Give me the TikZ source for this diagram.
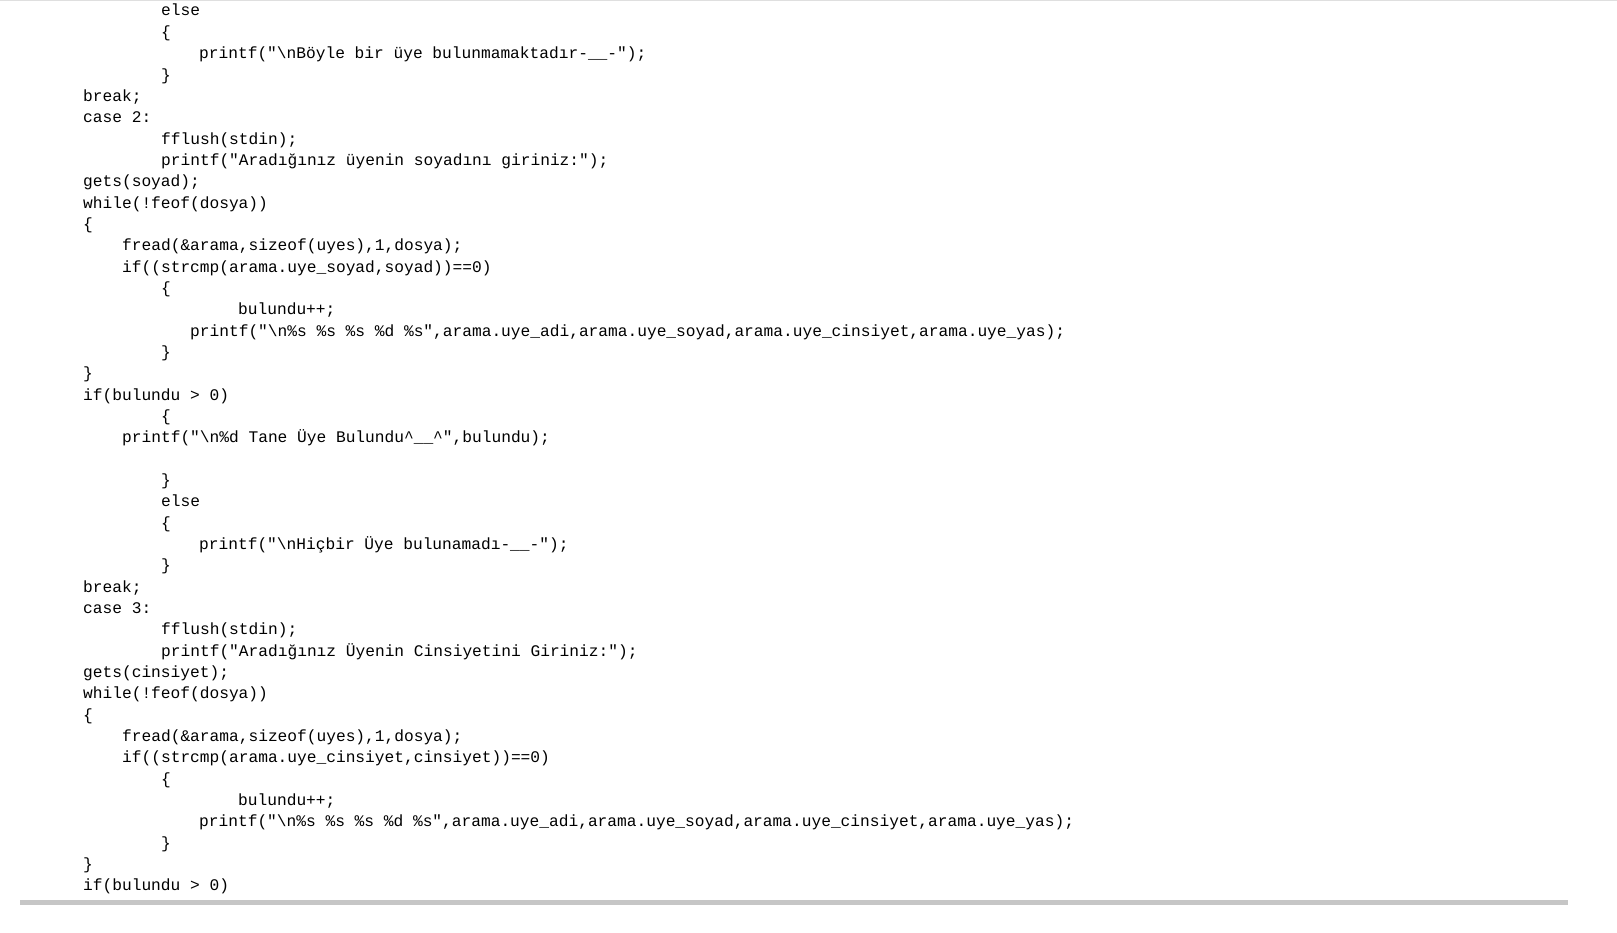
\documentclass[tikz,border=0pt]{standalone}
\usepackage{fontspec}
\setmonofont{Liberation Mono}
\begin{document}
\begin{tikzpicture}[x=1pt,y=-1pt,
  code/.style={anchor=base west,inner sep=0pt,font=\ttfamily\fontsize{16.2}{18}\selectfont,text=black}]
\useasboundingbox[fill=white] (0,0) rectangle (1617,933);
\fill[gray!45] (20,900) rectangle (1568,905);
\draw[gray!25] (0,0.5) -- (1617,0.5);
\def\L#1#2#3{\node[code] (l#1) at (#2,{11+(#1-1)*21.34+5}) {#3};}
\L{1}{161}{else}
\L{2}{161}{\{}
\L{3}{199}{printf("\textbackslash nBöyle bir üye bulunmamaktadır-\_\_-");}
\L{4}{161}{\}}
\L{5}{83}{break;}
\L{6}{83}{case 2:}
\L{7}{161}{fflush(stdin);}
\L{8}{161}{printf("Aradığınız üyenin soyadını giriniz:");}
\L{9}{83}{gets(soyad);}
\L{10}{83}{while(!feof(dosya))}
\L{11}{83}{\{}
\L{12}{122}{fread(\&arama,sizeof(uyes),1,dosya);}
\L{13}{122}{if((strcmp(arama.uye\_soyad,soyad))==0)}
\L{14}{161}{\{}
\L{15}{238}{bulundu++;}
\L{16}{190}{printf("\textbackslash n\%s \%s \%s \%d \%s",arama.uye\_adi,arama.uye\_soyad,arama.uye\_cinsiyet,arama.uye\_yas);}
\L{17}{161}{\}}
\L{18}{83}{\}}
\L{19}{83}{if(bulundu > 0)}
\L{20}{161}{\{}
\L{21}{122}{printf("\textbackslash n\%d Tane Üye Bulundu\textasciicircum\_\_\textasciicircum",bulundu);}
\L{23}{161}{\}}
\L{24}{161}{else}
\L{25}{161}{\{}
\L{26}{199}{printf("\textbackslash nHiçbir Üye bulunamadı-\_\_-");}
\L{27}{161}{\}}
\L{28}{83}{break;}
\L{29}{83}{case 3:}
\L{30}{161}{fflush(stdin);}
\L{31}{161}{printf("Aradığınız Üyenin Cinsiyetini Giriniz:");}
\L{32}{83}{gets(cinsiyet);}
\L{33}{83}{while(!feof(dosya))}
\L{34}{83}{\{}
\L{35}{122}{fread(\&arama,sizeof(uyes),1,dosya);}
\L{36}{122}{if((strcmp(arama.uye\_cinsiyet,cinsiyet))==0)}
\L{37}{161}{\{}
\L{38}{238}{bulundu++;}
\L{39}{199}{printf("\textbackslash n\%s \%s \%s \%d \%s",arama.uye\_adi,arama.uye\_soyad,arama.uye\_cinsiyet,arama.uye\_yas);}
\L{40}{161}{\}}
\L{41}{83}{\}}
\L{42}{83}{if(bulundu > 0)}
\end{tikzpicture}
\end{document}
